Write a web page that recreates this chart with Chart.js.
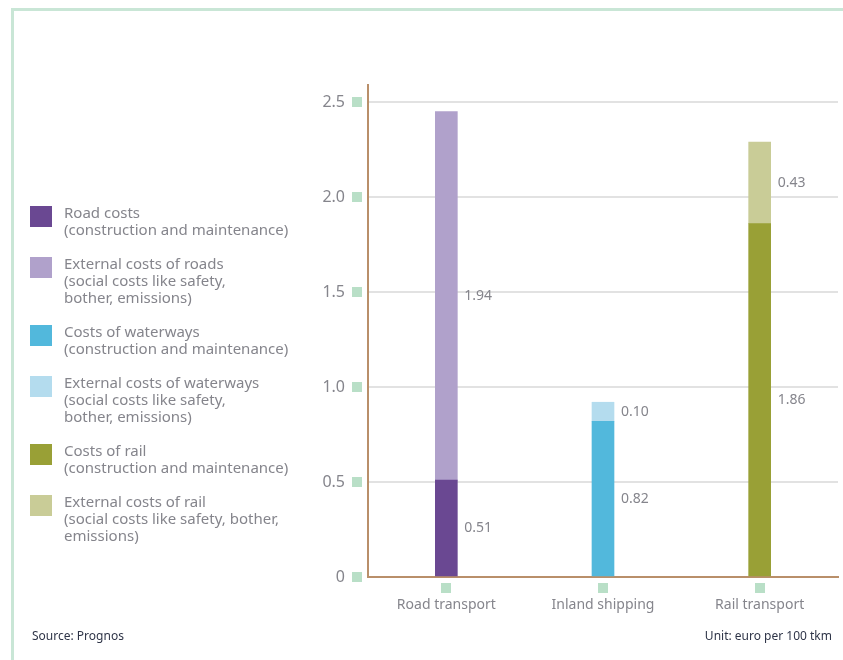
<!DOCTYPE html>
<html>
<head>
<meta charset="utf-8">
<script src="https://cdn.jsdelivr.net/npm/chart.js@4/dist/chart.umd.min.js"></script>
<style>
  body { margin: 0; background: #fff; font-family: "Noto Sans", sans-serif; }
  #wrap { position: relative; width: 843px; height: 660px; overflow: hidden; }
  #frame { position: absolute; left: 11px; top: 8px; width: 900px; height: 700px;
           border-top: 3px solid #c9e6d6; border-left: 3px solid #c9e6d6; }
  #chart { position: absolute; left: 0; top: 0; }
  #legend { position: absolute; left: 30px; top: 204px; }
  .item { position: relative; padding-left: 34px; margin-bottom: 17px; color: #85858c;
          font-size: 15px; line-height: 17px; white-space: pre; }
  .sw { position: absolute; left: 0; top: 2px; width: 22px; height: 21px; }
  .note { position: absolute; top: 627px; font-size: 12px; color: #2f3548; }
</style>
</head>
<body>
<div id="wrap">
  <div id="frame"></div>
  <canvas id="chart" width="843" height="660"></canvas>
  <div id="legend"></div>
  <div class="note" style="left:32px">Source: Prognos</div>
  <div class="note" style="right:11px">Unit: euro per 100 tkm</div>
</div>
<script>
const categories = ["Road transport", "Inland shipping", "Rail transport"];
const yTicks = [0, 0.5, 1.0, 1.5, 2.0, 2.5];

const seriesNames = [
  "Road costs\n(construction and maintenance)",
  "External costs of roads\n(social costs like safety,\nbother, emissions)",
  "Costs of waterways\n(construction and maintenance)",
  "External costs of waterways\n(social costs like safety,\nbother, emissions)",
  "Costs of rail\n(construction and maintenance)",
  "External costs of rail\n(social costs like safety, bother,\nemissions)"
];
const seriesColors = ["#6a4892", "#b0a1cb", "#52b8dc", "#b4dcee", "#99a036", "#c9cc97"];

const roadCosts = [0.51, null, null];
const roadExternal = [1.94, null, null];
const waterCosts = [null, 0.82, null];
const waterExternal = [null, 0.10, null];
const railCosts = [null, null, 1.86];
const railExternal = [null, null, 0.43];
const seriesValues = [roadCosts, roadExternal, waterCosts, waterExternal, railCosts, railExternal];

const tickGreen = "#b9dfc7";
const textGray = "#85858c";

// legend in html
const legend = document.getElementById("legend");
seriesNames.forEach((name, i) => {
  const div = document.createElement("div");
  div.className = "item";
  div.textContent = name;
  const sw = document.createElement("span");
  sw.className = "sw";
  sw.style.background = seriesColors[i];
  div.appendChild(sw);
  legend.appendChild(div);
});

const decorations = {
  id: "decorations",
  afterDraw(chart) {
    const ctx = chart.ctx;
    const x = chart.scales.x, y = chart.scales.y;
    ctx.save();
    ctx.fillStyle = tickGreen;
    yTicks.forEach(v => {
      const py = y.getPixelForValue(v);
      ctx.fillRect(y.right - 16, Math.round(py) - 5, 10, 10);
    });
    categories.forEach((c, i) => {
      const px = x.getPixelForValue(i);
      ctx.fillRect(Math.round(px) - 5, x.top + 6, 10, 10);
    });
    // value labels
    ctx.fillStyle = textGray;
    ctx.font = "14px 'Noto Sans'";
    ctx.textBaseline = "middle";
    chart.data.datasets.forEach((ds, di) => {
      chart.getDatasetMeta(di).data.forEach((bar, i) => {
        const v = ds.data[i];
        if (v == null) return;
        const cy = (bar.y + bar.base) / 2;
        ctx.fillText(v.toFixed(2), bar.x + bar.width / 2 + 7, cy);
      });
    });
    ctx.restore();
  }
};

new Chart(document.getElementById("chart"), {
  type: "bar",
  data: {
    labels: categories,
    datasets: seriesValues.map((vals, i) => ({
      label: seriesNames[i],
      data: vals,
      backgroundColor: seriesColors[i],
      barThickness: 22,
      stack: "all"
    }))
  },
  options: {
    responsive: false,
    animation: false,
    layout: { padding: { top: 85, right: 5, left: 0, bottom: 0 } },
    plugins: { legend: { display: false }, tooltip: { enabled: false } },
    scales: {
      x: {
        stacked: true,
        grid: { display: false, drawTicks: false },
        border: { color: "#b98f6a", width: 2 },
        ticks: { color: textGray, font: { family: "Noto Sans", size: 14 }, padding: 20 },
        afterFit(s) { s.height = 83; }
      },
      y: {
        stacked: true,
        min: 0,
        max: 2.59,
        afterBuildTicks(s) { s.ticks = yTicks.map(v => ({ value: v })); },
        grid: { color: "#e2e2e2", lineWidth: 2, drawTicks: false },
        border: { color: "#b98f6a", width: 2 },
        ticks: {
          color: textGray,
          font: { family: "Noto Sans", size: 16 },
          padding: 23,
          callback: v => (v === 0 ? "0" : v.toFixed(1))
        },
        afterFit(s) { s.width = 368; }
      }
    }
  },
  plugins: [decorations]
});
</script>
</body>
</html>
